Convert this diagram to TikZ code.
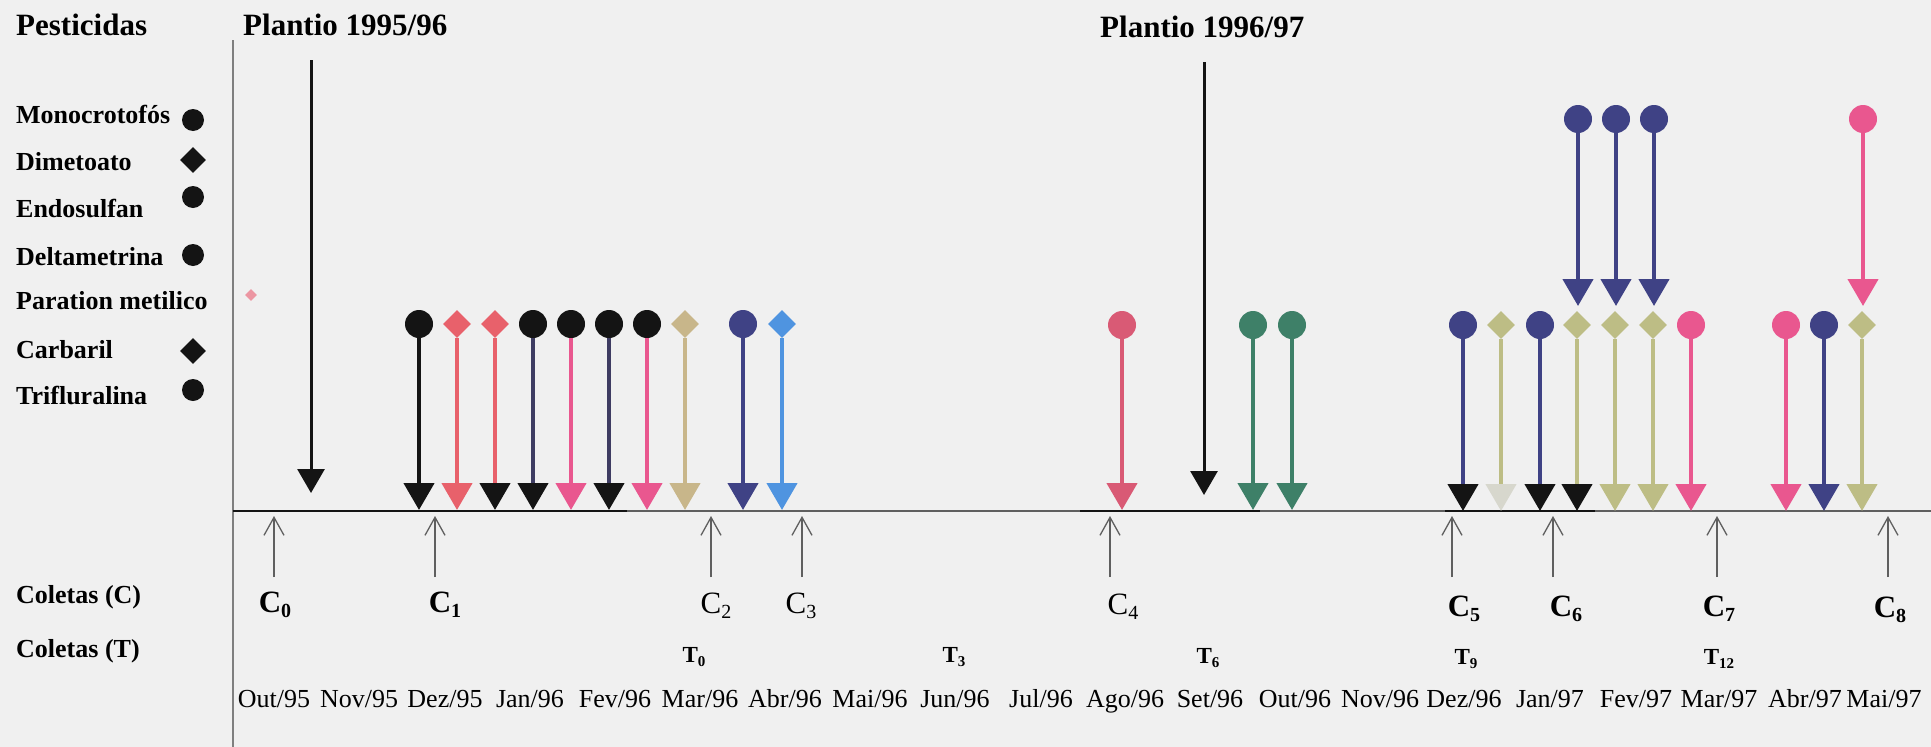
\documentclass[tikz,border=0pt]{standalone}
\usepackage{fontspec}
\setmainfont{Liberation Serif}
\usetikzlibrary{arrows.meta,shapes.geometric}
\definecolor{bg}{RGB}{240,240,240}
\definecolor{blk}{RGB}{20,20,20}
\definecolor{redd}{RGB}{232,97,107}
\definecolor{pinkk}{RGB}{233,87,143}
\definecolor{navy}{RGB}{63,66,133}
\definecolor{dnav}{RGB}{62,60,98}
\definecolor{tann}{RGB}{200,182,138}
\definecolor{khak}{RGB}{189,189,133}
\definecolor{lblue}{RGB}{79,148,224}
\definecolor{greenn}{RGB}{62,128,104}
\definecolor{rose}{RGB}{217,90,117}
\definecolor{pale}{RGB}{236,150,162}
\definecolor{speck}{RGB}{215,215,205}
\definecolor{axisg}{RGB}{95,95,95}
\newcommand\csubx[2]{#1\raisebox{-0.18em}{\fontsize{20}{20}\selectfont #2}}
\newcommand\tsubx[2]{#1\raisebox{-0.18em}{\fontsize{15}{15}\selectfont #2}}
\begin{document}
\begin{tikzpicture}[x=1pt,y=-1pt,
  title/.style={anchor=base west,inner sep=0pt,font=\fontsize{31}{36}\selectfont\bfseries},
  legtext/.style={anchor=base west,inner sep=0pt,font=\fontsize{26}{30}\selectfont\bfseries},
  legsym/.style={shape=#1,fill=blk,inner sep=0pt,minimum size=22pt},
  sym/.style={shape=#1,inner sep=0pt,minimum size=28pt},
  stem/.style={line width=4.5pt},
  month/.style={anchor=base,inner sep=0pt,font=\fontsize{26}{30}\selectfont},
  clab/.style={anchor=base,inner sep=0pt,font=\fontsize{31}{34}\selectfont\bfseries},
  clabr/.style={anchor=base,inner sep=0pt,font=\fontsize{31}{34}\selectfont},
  tlab/.style={anchor=base,inner sep=0pt,font=\fontsize{23}{26}\selectfont\bfseries},
  coll/.style={line width=1.3pt,draw=axisg,-{Straight Barb[length=18pt,width=20pt,line width=1.3pt]}},
  plant/.style={line width=3pt,draw=blk,-{Triangle[length=24pt,width=27pt,color=blk]}}
]
\fill[bg] (0,0) rectangle (1931,747);
\useasboundingbox (0,0) rectangle (1931,747);

% titles
\node[title] (tpest) at (16,35) {Pesticidas};
\node[title] (tpl1) at (243,35) {Plantio 1995/96};
\node[title] (tpl2) at (1100,37) {Plantio 1996/97};

% legend
\node[legtext] (l1) at (16,123) {Monocrotofós};
\node[legtext] (l2) at (16,170) {Dimetoato};
\node[legtext] (l3) at (16,217) {Endosulfan};
\node[legtext] (l4) at (16,265) {Deltametrina};
\node[legtext] (l5) at (16,309) {Paration metilico};
\node[legtext] (l6) at (16,358) {Carbaril};
\node[legtext] (l7) at (16,404) {Trifluralina};
\node[legsym=circle] (s1) at (193,120) {};
\node[legsym=diamond,minimum size=26pt] (s2) at (193,160) {};
\node[legsym=circle] (s3) at (193,197) {};
\node[legsym=circle] (s4) at (193,255) {};
\node[legsym=diamond,minimum size=26pt] (s6) at (193,351) {};
\node[legsym=circle] (s7) at (193,390) {};
\node[shape=diamond,fill=pale,inner sep=0pt,minimum size=12pt] (s5) at (251,295) {};

\node[anchor=base west,inner sep=0pt,font=\fontsize{26}{30}\selectfont\bfseries] (lc) at (16,603) {Coletas (C)};
\node[anchor=base west,inner sep=0pt,font=\fontsize{26}{30}\selectfont\bfseries] (lt) at (16,657) {Coletas (T)};

% axes
\coordinate (ax0) at (233,40);
\coordinate (ax1) at (233,747);
\draw[line width=1.2pt,draw=axisg!80] (ax0) -- (ax1);
\coordinate (b0) at (233,511);
\coordinate (b1) at (1931,511);
\draw[line width=1.5pt,draw=axisg] (b0) -- (b1);
\coordinate (k0) at (233,511); \coordinate (k1) at (627,511);
\draw[line width=2.6pt,draw=blk] (k0) -- (k1);
\coordinate (k2) at (1080,511); \coordinate (k3) at (1260,511);
\draw[line width=2pt,draw=blk] (k2) -- (k3);
\coordinate (k4) at (1445,511); \coordinate (k5) at (1595,511);
\draw[line width=2.6pt,draw=blk] (k4) -- (k5);

% planting arrows
\coordinate (pa0) at (311,60); \coordinate (pa1) at (311,493);
\draw[plant] (pa0) -- (pa1);
\coordinate (pb0) at (1204,62); \coordinate (pb1) at (1204,495);
\draw[plant] (pb0) -- (pb1);

% pesticide applications
\foreach \n/\x/\yt/\yb/\sh/\sc/\lc/\hc in {
  a/419/324/510/circle/blk/blk/blk,
  b/457/324/510/diamond/redd/redd/redd,
  c/495/324/510/diamond/redd/redd/blk,
  d/533/324/510/circle/blk/dnav/blk,
  e/571/324/510/circle/blk/pinkk/pinkk,
  f/609/324/510/circle/blk/dnav/blk,
  g/647/324/510/circle/blk/pinkk/pinkk,
  h/685/324/510/diamond/tann/tann/tann,
  i/743/324/510/circle/navy/navy/navy,
  j/782/324/510/diamond/lblue/lblue/lblue,
  k/1122/325/510/circle/rose/rose/rose,
  l/1253/325/510/circle/greenn/greenn/greenn,
  m/1292/325/510/circle/greenn/greenn/greenn,
  n/1463/325/511/circle/navy/navy/blk,
  o/1501/325/511/diamond/khak/khak/speck,
  p/1540/325/511/circle/navy/navy/blk,
  q/1577/325/511/diamond/khak/khak/blk,
  r/1615/325/511/diamond/khak/khak/khak,
  s/1653/325/511/diamond/khak/khak/khak,
  t/1691/325/511/circle/pinkk/pinkk/pinkk,
  u/1786/325/511/circle/pinkk/pinkk/pinkk,
  v/1824/325/511/circle/navy/navy/navy,
  w/1862/325/511/diamond/khak/khak/khak,
  x/1578/119/306/circle/navy/navy/navy,
  y/1616/119/306/circle/navy/navy/navy,
  z/1654/119/306/circle/navy/navy/navy,
  zz/1863/119/306/circle/pinkk/pinkk/pinkk}
{
  \node[sym=\sh,fill=\sc] (p\n) at (\x,\yt) {};
  \coordinate (t\n) at (\x,\yb);
  \draw[stem,draw=\lc,-{Triangle[length=27pt,width=30pt,color=\hc]}] (p\n) -- (t\n);
}

% collection arrows
\foreach \n/\x in {0/274,1/435,2/711,3/802,4/1110,5/1452,6/1553,7/1717,8/1888}{
  \coordinate (cs\n) at (\x,577);
  \coordinate (ce\n) at (\x,516);
  \draw[coll] (cs\n) -- (ce\n);
}

% collection labels C
\node[clab] (C0) at (275,612) {\csubx{C}{0}};
\node[clab] (C1) at (445,612) {\csubx{C}{1}};
\node[clabr] (C2) at (716,613) {\csubx{C}{2}};
\node[clabr] (C3) at (801,613) {\csubx{C}{3}};
\node[clabr] (C4) at (1123,614) {\csubx{C}{4}};
\node[clab] (C5) at (1464,616) {\csubx{C}{5}};
\node[clab] (C6) at (1566,616) {\csubx{C}{6}};
\node[clab] (C7) at (1719,616) {\csubx{C}{7}};
\node[clab] (C8) at (1890,617) {\csubx{C}{8}};

% collection labels T
\node[tlab] (T0) at (694,662) {\tsubx{T}{0}};
\node[tlab] (T3) at (954,662) {\tsubx{T}{3}};
\node[tlab] (T6) at (1208,663) {\tsubx{T}{6}};
\node[tlab] (T9) at (1466,664) {\tsubx{T}{9}};
\node[tlab] (T12) at (1719,664) {\tsubx{T}{12}};

% months
\foreach \n/\x/\m in {1/274/{Out/95},2/359/{Nov/95},3/445/{Dez/95},4/530/{Jan/96},5/615/{Fev/96},
  6/700/{Mar/96},7/785/{Abr/96},8/870/{Mai/96},9/955/{Jun/96},10/1041/{Jul/96},11/1125/{Ago/96},
  12/1210/{Set/96},13/1295/{Out/96},14/1380/{Nov/96},15/1464/{Dez/96},16/1550/{Jan/97},
  17/1636/{Fev/97},18/1719/{Mar/97},19/1805/{Abr/97},20/1884/{Mai/97}}{
  \node[month] (mo\n) at (\x,707) {\m};
}
\end{tikzpicture}
\end{document}
